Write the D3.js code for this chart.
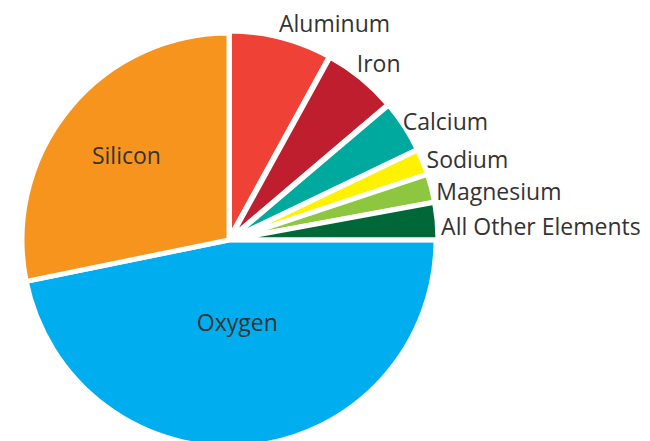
<!DOCTYPE html>
<html>
<head>
<meta charset="utf-8">
<script src="https://cdn.jsdelivr.net/npm/d3@7"></script>
<style>
  html, body { margin: 0; padding: 0; background: #ffffff; }
  svg { display: block; }
  text { font-family: "Open Sans", "Noto Sans", sans-serif; fill: #333333; }
</style>
</head>
<body>
<svg id="chart" width="650" height="441"></svg>
<script>
// Composition of the Earth's crust (percent by mass)
const elements = ["Oxygen", "Silicon", "Aluminum", "Iron", "Calcium", "Sodium", "Magnesium", "All Other Elements"];
const percentages = [46.8, 28.2, 8.0, 5.8, 4.1, 2.0, 2.2, 2.9];
const sliceColors = ["#00aeef", "#f7941d", "#ef4136", "#be1e2d", "#00a99d", "#fff200", "#8dc63f", "#006838"];
// the two largest slices carry their label inside the wedge
const insideLabels = ["Oxygen", "Silicon"];

const width = 650, height = 441;
const cx = 229, cy = 240;
const radius = 207;

const svg = d3.select("#chart");
const g = svg.append("g").attr("transform", `translate(${cx},${cy})`);

const rows = elements.map((name, i) => ({ name, value: percentages[i], color: sliceColors[i] }));

// pie starts at three o'clock and runs clockwise
const pie = d3.pie()
  .sort(null)
  .value(d => d.value)
  .startAngle(Math.PI / 2)
  .endAngle(Math.PI / 2 + 2 * Math.PI);

const arcs = pie(rows);
const arc = d3.arc().innerRadius(0).outerRadius(radius);
const midAngle = d => (d.startAngle + d.endAngle) / 2;

// the small slices are pulled a little away from the centre
const explode = d => insideLabels.includes(d.data.name) ? 0 : 2;

g.selectAll("path.slice")
  .data(arcs)
  .join("path")
  .attr("class", "slice")
  .attr("d", arc)
  .attr("transform", d => `translate(${Math.sin(midAngle(d)) * explode(d)},${-Math.cos(midAngle(d)) * explode(d)})`)
  .attr("fill", d => d.data.color)
  .attr("stroke", "#ffffff")
  .attr("stroke-width", 5)
  .attr("stroke-linejoin", "miter");

const fontSize = 23;

// inside labels, placed along the slice bisector
const insideRadius = { Oxygen: 0.40, Silicon: 0.64 };
g.selectAll("text.inner")
  .data(arcs.filter(d => insideLabels.includes(d.data.name)))
  .join("text")
  .attr("class", "inner")
  .attr("x", d => Math.sin(midAngle(d)) * radius * insideRadius[d.data.name])
  .attr("y", d => -Math.cos(midAngle(d)) * radius * insideRadius[d.data.name])
  .attr("dy", "0.36em")
  .attr("text-anchor", "middle")
  .attr("font-size", fontSize)
  .text(d => d.data.name);

// outside labels start just past the rim on each slice's bisector, then get a small nudge
const labelRadius = radius + 6;
const labelNudge = {
  "Aluminum": [-3, -2],
  "Iron": [-7, -3],
  "Calcium": [-5, 6],
  "Sodium": [0, 8],
  "Magnesium": [1, 13],
  "All Other Elements": [0, 14]
};
g.selectAll("text.outer")
  .data(arcs.filter(d => !insideLabels.includes(d.data.name)))
  .join("text")
  .attr("class", "outer")
  .attr("x", d => Math.sin(midAngle(d)) * labelRadius + labelNudge[d.data.name][0])
  .attr("y", d => -Math.cos(midAngle(d)) * labelRadius + labelNudge[d.data.name][1])
  .attr("text-anchor", "start")
  .attr("font-size", fontSize)
  .text(d => d.data.name);
</script>
</body>
</html>
